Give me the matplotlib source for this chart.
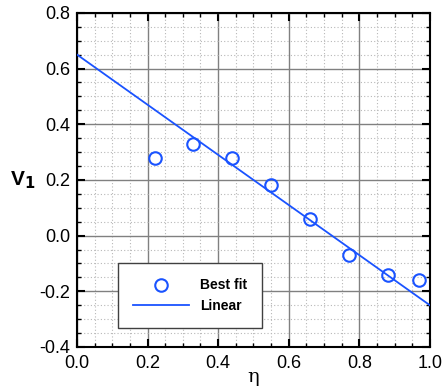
import numpy as np
import matplotlib.pyplot as plt
from matplotlib.ticker import MultipleLocator

eta = [0.22, 0.33, 0.44, 0.55, 0.66, 0.77, 0.88, 0.97]
v1 = [0.28, 0.33, 0.28, 0.18, 0.06, -0.07, -0.14, -0.16]
line_x = [0.0, 1.0]
line_y = [0.65, -0.25]

plt.rcParams['font.family'] = ['Liberation Sans', 'DejaVu Sans']
fig = plt.figure(figsize=(4.45, 3.89), dpi=100)
ax = fig.add_axes([0.173, 0.108, 0.793, 0.859])

ax.plot(line_x, line_y, color='#1a53ff', lw=1.3, label='Linear', zorder=3)
ax.plot(eta, v1, marker='o', linestyle=' ', ms=9, mfc='none', mec='#1a53ff',
        mew=1.5, label='Best fit', zorder=4)

ax.set_xlim(0, 1)
ax.set_ylim(-0.4, 0.8)
ax.xaxis.set_major_locator(MultipleLocator(0.2))
ax.xaxis.set_minor_locator(MultipleLocator(0.05))
ax.yaxis.set_major_locator(MultipleLocator(0.2))
ax.yaxis.set_minor_locator(MultipleLocator(0.05))
ax.xaxis.set_major_formatter(plt.FormatStrFormatter('%.1f'))
ax.yaxis.set_major_formatter(plt.FormatStrFormatter('%.1f'))

ax.grid(which='major', color='#808080', lw=1.0, ls='-')
ax.grid(which='minor', color='#b8b8b8', lw=0.8, ls=(0, (1, 2)))
ax.tick_params(which='major', direction='in', length=6, width=1.5, labelsize=13,
               top=True, right=True)
ax.tick_params(which='minor', direction='in', length=3, width=1, top=True, right=True)
ax.tick_params(axis='x', which='major', pad=6)
ax.tick_params(axis='y', which='major', pad=5)
for s in ax.spines.values():
    s.set_linewidth(1.5)

ax.set_xlabel('η', fontsize=14, family='DejaVu Serif', labelpad=-3)
ax.set_ylabel('V$_\\mathbf{1}$', fontsize=15, fontweight='bold', rotation=0,
              labelpad=12, va='center')

h, l = ax.get_legend_handles_labels()
leg = ax.legend(h[::-1], l[::-1], loc='lower left', bbox_to_anchor=(0.116, 0.057),
                borderaxespad=0, fancybox=False, framealpha=1, edgecolor='#404040',
                prop={'weight': 'bold', 'size': 10}, borderpad=1.1,
                handlelength=4.0, handletextpad=0.8, labelspacing=0.45)
leg.get_frame().set_linewidth(1.0)

fig.savefig('out.png', dpi=100)
